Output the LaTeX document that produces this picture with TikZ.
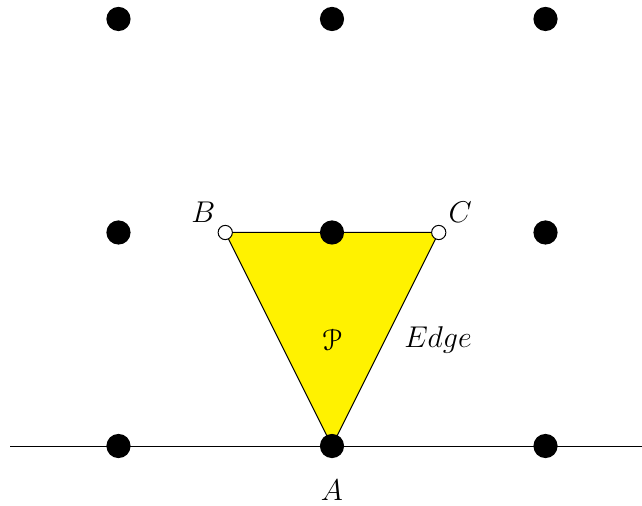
\documentclass[tikz,border=0pt]{standalone}
\usepackage{amsmath}
\usepackage[mathcal]{eucal}
\begin{document}
\begin{tikzpicture}[font=\large]
  \useasboundingbox (-4.665,-0.843) rectangle (4.356,6.267);
  % Triangle vertices
  \coordinate (A) at (0,0);
  \coordinate (B) at (-1.5,3);
  \coordinate (C) at (1.5,3);
  % Filled triangle
  \filldraw[fill=yellow, draw=black, line width=0.4pt] (A) -- (B) -- (C) -- cycle;
  % Base line
  \coordinate (L) at (-4.52,0);
  \coordinate (R) at (4.36,0);
  \draw (L) -- (R);
  % Lattice points
  \foreach \x in {-3,0,3} {
    \foreach \y in {0,3,6} {
      \fill (\x,\y) circle (0.17);
    }
  }
  % Open end points
  \foreach \p in {B,C} {
    \filldraw[fill=white, draw=black] (\p) circle (0.1);
  }
  % Labels
  \node (labA) at (0,-0.62) {$A$};
  \node (labB) at (-1.81,3.29) {$B$};
  \node (labC) at (1.80,3.29) {$C$};
  \node (labP) at (0,1.49) {$\mathcal{P}$};
  \node (labE) at (1.49,1.49) {$Edge$};
\end{tikzpicture}
\end{document}
